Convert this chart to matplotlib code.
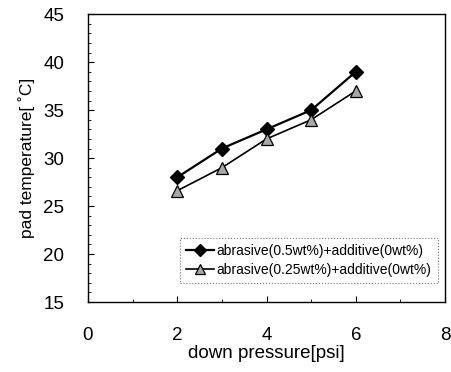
import matplotlib
matplotlib.use("Agg")
import matplotlib.pyplot as plt
from matplotlib.ticker import MultipleLocator

plt.rcParams['font.family'] = ['Liberation Sans', 'DejaVu Sans']

pressure = [2, 3, 4, 5, 6]
temp_05 = [28.0, 31.0, 33.0, 35.0, 39.0]
temp_025 = [26.6, 29.0, 32.0, 34.0, 37.0]
label_05 = "abrasive(0.5wt%)+additive(0wt%)"
label_025 = "abrasive(0.25wt%)+additive(0wt%)"

fig = plt.figure(figsize=(4.51, 3.72), dpi=100)
ax = fig.add_axes([0.195, 0.188, 0.792, 0.774])

ax.plot(pressure, temp_05, color='black', lw=1.6, marker='D', ms=7,
        mfc='black', mec='black', label=label_05)
ax.plot(pressure, temp_025, color='black', lw=1.2, marker='^', ms=8,
        mfc='#a8a8a8', mec='black', mew=0.9, label=label_025)

ax.set_xlim(0, 8)
ax.set_ylim(15, 45)
ax.xaxis.set_major_locator(MultipleLocator(2))
ax.yaxis.set_major_locator(MultipleLocator(5))
ax.xaxis.set_minor_locator(MultipleLocator(1))
ax.yaxis.set_minor_locator(MultipleLocator(1))
ax.tick_params(axis='both', which='major', direction='in', length=4, width=0.8,
               labelsize=13.5)
ax.tick_params(axis='y', which='major', pad=17)
ax.tick_params(axis='x', which='major', pad=18)
ax.tick_params(axis='both', which='minor', direction='in', length=2, width=0.6)
for s in ax.spines.values():
    s.set_linewidth(1.0)

ax.set_xlabel("down pressure[psi]", fontsize=13.5, labelpad=1)
ax.set_ylabel("pad temperature[ \u02daC]", fontsize=12.5, labelpad=6)

leg = ax.legend(loc='lower right', bbox_to_anchor=(0.98, 0.065), fontsize=10,
                frameon=True, fancybox=False, handlelength=2.0, handletextpad=0.2,
                borderpad=0.45, labelspacing=0.35, borderaxespad=0, markerscale=0.85)
fr = leg.get_frame()
fr.set_edgecolor('#555555')
fr.set_linestyle(':')
fr.set_linewidth(0.8)

fig.savefig("out.png", dpi=100)
